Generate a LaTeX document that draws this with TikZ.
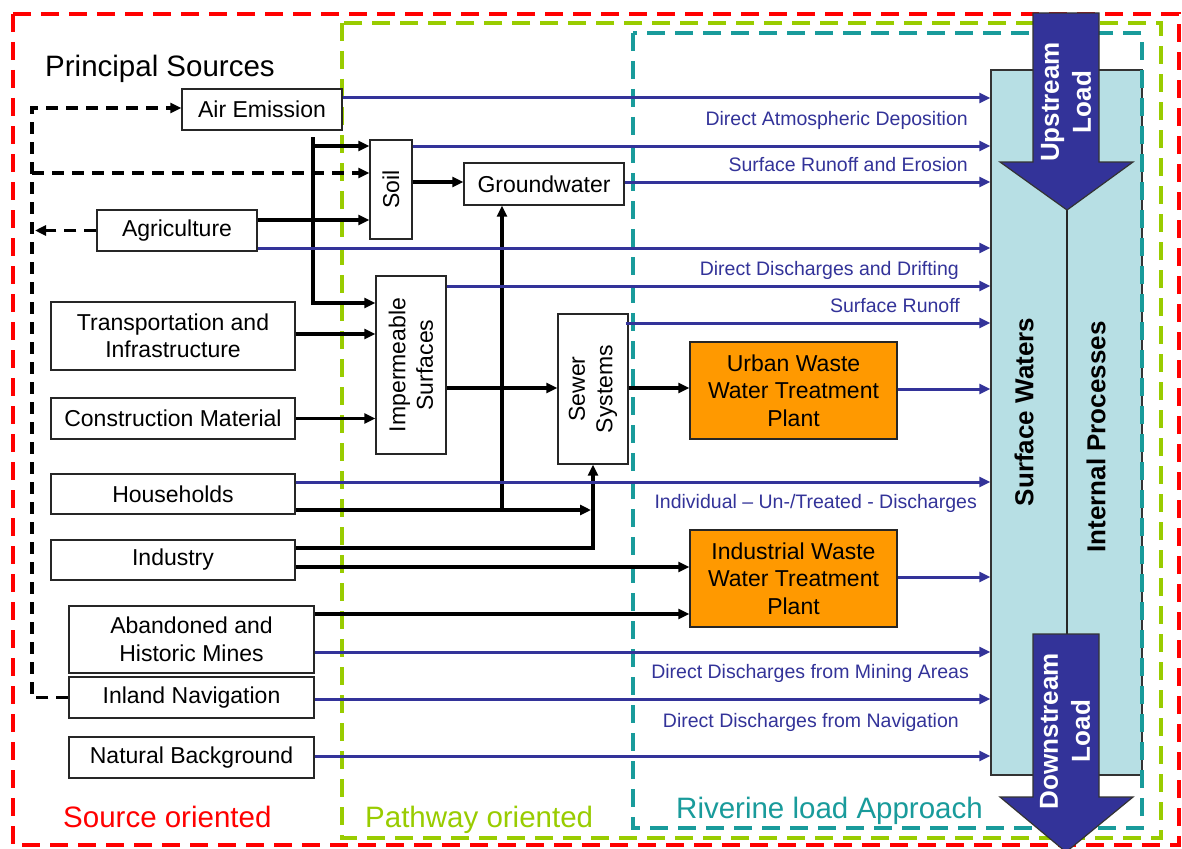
\documentclass[tikz,border=0pt]{standalone}
\usepackage{fontspec}
\setmainfont{Liberation Sans}
\usetikzlibrary{arrows.meta,calc}
\definecolor{fred}{RGB}{255,0,0}
\definecolor{fgreen}{RGB}{153,204,0}
\definecolor{fteal}{RGB}{25,155,155}
\definecolor{dblue}{RGB}{51,51,153}
\definecolor{lblue}{RGB}{183,223,228}
\definecolor{orng}{RGB}{255,153,0}
\begin{document}
\begin{tikzpicture}[x=1pt,y=-1pt,
  box/.style={draw=black!85, line width=1.4pt, fill=white, inner sep=0pt, align=center, font=\fontsize{23}{27.5}\selectfont},
  obox/.style={box, fill=orng},
  vtext/.style={rotate=90, align=center, inner sep=0pt, font=\fontsize{23}{27.5}\selectfont},
  btext/.style={rotate=90, align=center, inner sep=0pt, font=\fontsize{26}{32}\selectfont\bfseries},
  blk/.style={line width=3.3pt, black},
  bl/.style={line width=3pt, dblue},
  dsh/.style={line width=3.3pt, black, dash pattern=on 12pt off 8pt},
  tipk/.style={-{Triangle[length=11pt,width=10pt]}},
  lab/.style={dblue, anchor=base east, inner sep=0pt, font=\fontsize{19.5}{23}\selectfont},
  big/.style={anchor=base west, inner sep=0pt, font=\fontsize{29.5}{34}\selectfont},
  frame/.style={line width=3.2pt, dash pattern=on 18pt off 10pt},
  bigarrow/.style={fill=dblue, draw=black!80, line width=1.2pt}]
\clip (0,0) rectangle (1182,848);
\fill[white] (0,0) rectangle (1182,848);
% frames
\draw[frame, fred] (13,14) rectangle (1179,845);
\draw[frame, fgreen] (342,23) rectangle (1161,838);
% surface waters column
\node[draw=black!80, line width=1.4pt, fill=lblue, minimum width=151pt, minimum height=705pt, inner sep=0pt] (sw) at (1066.5,422.5) {};
\draw[frame, fteal] (633,33) rectangle (1142,828);
\coordinate (uptip) at (1067,210);
\coordinate (dntop) at (1067,634);
\draw[line width=1.3pt, black!85] (uptip) -- (dntop);
% big arrows
\filldraw[bigarrow] (1033,13) -- (1099,13) -- (1099,162) -- (1133,162) -- (uptip) -- (1000,162) -- (1033,162) -- cycle;
\filldraw[bigarrow] (1033,634) -- (1099,634) -- (1099,797) -- (1133,797) -- (1066,852) -- (1000,797) -- (1033,797) -- cycle;
\node[btext, white] at (1066,102) {Upstream\\Load};
\node[btext, white] at (1065,731) {Downstream\\Load};
\node[btext] at (1024,412) {Surface Waters};
\node[btext] at (1096,437) {Internal Processes};
% boxes
\node[box, minimum width=160pt, minimum height=41pt] (air) at (262,109.5) {Air Emission};
\node[box, minimum width=160pt, minimum height=41pt] (agri) at (177,230.5) {Agriculture};
\node[box, minimum width=42pt, minimum height=99pt] (soil) at (391,189.5) {};
\node[vtext] at (soil.center) {Soil};
\node[box, minimum width=160pt, minimum height=42pt] (gw) at (544,184) {Groundwater};
\node[box, minimum width=70pt, minimum height=178pt] (imp) at (411,365) {};
\node[vtext] at (imp.center) {Impermeable\\Surfaces};
\node[box, minimum width=70pt, minimum height=150pt] (sewer) at (593,389) {};
\node[vtext] at (sewer.center) {Sewer\\Systems};
\node[obox, minimum width=207pt, minimum height=97pt] (uw) at (793.5,390.5) {Urban Waste\\Water Treatment\\Plant};
\node[obox, minimum width=207pt, minimum height=97pt] (iw) at (793.5,578.5) {Industrial Waste\\Water Treatment\\Plant};
\node[box, minimum width=244pt, minimum height=68pt] (trans) at (173,336) {Transportation and\\Infrastructure};
\node[box, minimum width=244pt, minimum height=41pt] (constr) at (173,418.5) {Construction Material};
\node[box, minimum width=244pt, minimum height=40pt] (house) at (173,494) {Households};
\node[box, minimum width=244pt, minimum height=40pt] (ind) at (173,560) {Industry};
\node[box, minimum width=245pt, minimum height=67pt] (mines) at (191.5,639.5) {Abandoned and\\Historic Mines};
\node[box, minimum width=245pt, minimum height=41pt] (nav) at (191.5,697.5) {Inland Navigation};
\node[box, minimum width=245pt, minimum height=41pt] (nat) at (191.5,757.5) {Natural Background};
% black connectors
\coordinate (va) at (313,137);
\draw[blk,tipk] (va) |- (imp.west |- 0,303);
\draw[blk,tipk] (va |- 0,146) -- (soil.west |- 0,146);
\draw[blk,tipk] (agri.east |- 0,220) -- (soil.west |- 0,220);
\draw[blk,tipk] (soil.east |- 0,182) -- (gw.west |- 0,182);
\draw[blk,tipk] (trans.east |- 0,334) -- (imp.west |- 0,334);
\draw[blk,tipk] (constr.east) -- (imp.west |- constr.east);
\draw[blk,tipk] (imp.east |- 0,388) -- (sewer.west |- 0,388);
\draw[blk,tipk] (sewer.east |- 0,388) -- (uw.west |- 0,388);
\coordinate (hj) at (502,510);
\draw[blk,tipk] (house.east |- hj) -- ([xshift=-2pt]sewer.south |- hj);
\draw[blk,tipk] (hj) -- (gw.south -| hj);
\draw[blk,tipk] (ind.east |- 0,548) -| (sewer.south);
\draw[blk,tipk] (ind.east |- 0,567) -- (iw.west |- 0,567);
\draw[blk,tipk] (mines.east |- 0,614) -- (iw.west |- 0,614);
% dashed feedback
\coordinate (dl) at (32,699);
\draw[dsh,tipk] (nav.west) -- (nav.west -| dl) -- (dl |- 0,108) -- (air.west |- 0,108);
\draw[dsh,tipk] (dl |- 0,173) -- (soil.west |- 0,173);
\draw[dsh,tipk] (agri.west) -- ([xshift=3pt]agri.west -| dl);
% blue connectors
\draw[bl,tipk] (air.east |- 0,98) -- (sw.west |- 0,98);
\draw[bl,tipk] (soil.east |- 0,146) -- (sw.west |- 0,146);
\draw[bl,tipk] (gw.east |- 0,182) -- (sw.west |- 0,182);
\draw[bl,tipk] (agri.east |- 0,248) -- (sw.west |- 0,248);
\draw[bl,tipk] (imp.east |- 0,286) -- (sw.west |- 0,286);
\draw[bl,tipk] ([xshift=-3pt]sewer.east |- 0,323) -- (sw.west |- 0,323);
\draw[bl,tipk] (uw.east |- 0,389) -- (sw.west |- 0,389);
\draw[bl,tipk] (house.east |- 0,482) -- (sw.west |- 0,482);
\draw[bl,tipk] (iw.east |- 0,577) -- (sw.west |- 0,577);
\draw[bl,tipk] (mines.east |- 0,652) -- (sw.west |- 0,652);
\draw[bl,tipk] (nav.east |- 0,699) -- (sw.west |- 0,699);
\draw[bl,tipk] (nat.east |- 0,756) -- (sw.west |- 0,756);
% labels
\node[lab] at (968,125) {Direct Atmospheric Deposition};
\node[lab] at (968,171) {Surface Runoff and Erosion};
\node[lab] at (959,275) {Direct Discharges and Drifting};
\node[lab] at (960,312) {Surface Runoff};
\node[lab] at (977,508) {Individual – Un-/Treated - Discharges};
\node[lab] at (969,678) {Direct Discharges from Mining Areas};
\node[lab] at (959,727) {Direct Discharges from Navigation};
\node[big] at (45,77) {Principal Sources};
\node[big, fred] at (63,827) {Source oriented};
\node[big, fgreen] at (365,827) {Pathway oriented};
\node[big, fteal] at (676,818) {Riverine load Approach};
\end{tikzpicture}
\end{document}
